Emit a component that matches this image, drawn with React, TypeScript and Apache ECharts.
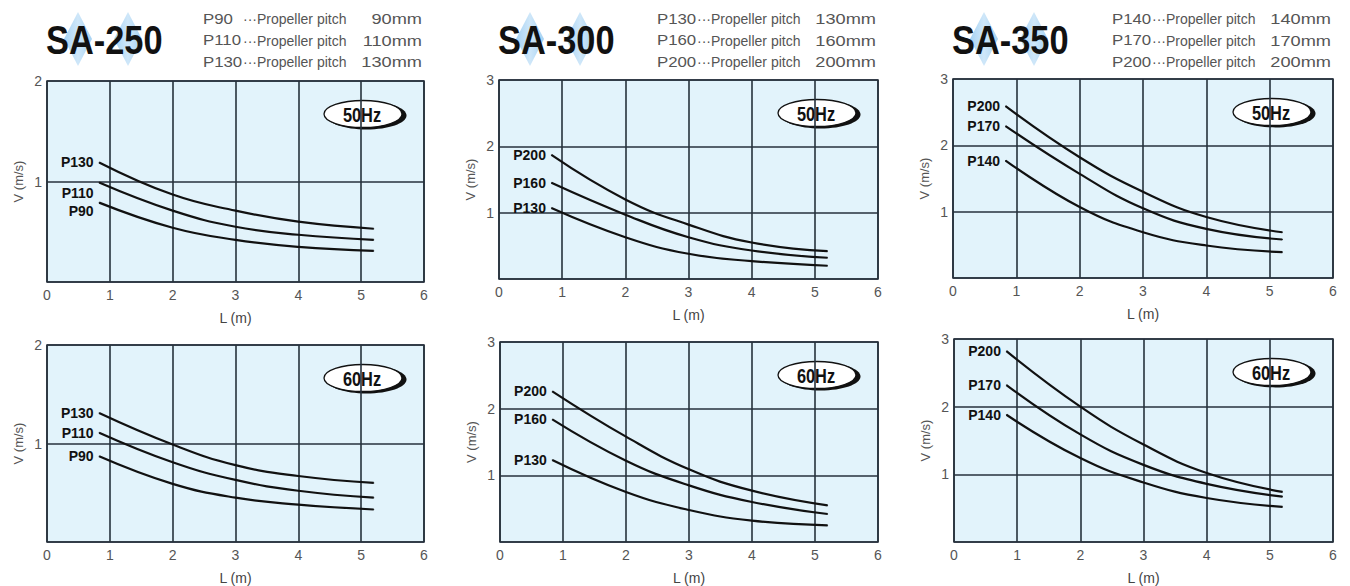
import React, { useEffect, useRef } from 'react';
import * as echarts from 'echarts';

// ---- data ----
const lengthsM = [0.83, 2, 3, 4, 5.2];

const sa250_50_p130 = [1.19, 0.87, 0.71, 0.6, 0.53];
const sa250_50_p110 = [0.99, 0.71, 0.55, 0.47, 0.42];
const sa250_50_p90 = [0.79, 0.54, 0.42, 0.35, 0.31];

const sa300_50_p200 = [1.87, 1.2, 0.82, 0.55, 0.42];
const sa300_50_p160 = [1.45, 0.97, 0.63, 0.43, 0.32];
const sa300_50_p130 = [1.07, 0.63, 0.38, 0.27, 0.2];

const sa350_50_p200 = [2.59, 1.82, 1.3, 0.92, 0.69];
const sa350_50_p170 = [2.29, 1.57, 1.05, 0.74, 0.58];
const sa350_50_p140 = [1.77, 1.07, 0.69, 0.49, 0.39];

const sa250_60_p130 = [1.31, 0.99, 0.78, 0.67, 0.6];
const sa250_60_p110 = [1.11, 0.81, 0.63, 0.52, 0.45];
const sa250_60_p90 = [0.87, 0.59, 0.45, 0.38, 0.33];

const sa300_60_p200 = [2.26, 1.58, 1.09, 0.77, 0.55];
const sa300_60_p160 = [1.84, 1.22, 0.85, 0.6, 0.42];
const sa300_60_p130 = [1.23, 0.75, 0.48, 0.32, 0.25];

const sa350_60_p200 = [2.82, 2.0, 1.44, 1.02, 0.74];
const sa350_60_p170 = [2.32, 1.59, 1.14, 0.86, 0.67];
const sa350_60_p140 = [1.88, 1.24, 0.88, 0.65, 0.52];

const pitches250 = [['P90', '90mm'], ['P110', '110mm'], ['P130', '130mm']];
const pitches300 = [['P130', '130mm'], ['P160', '160mm'], ['P200', '200mm']];
const pitches350 = [['P140', '140mm'], ['P170', '170mm'], ['P200', '200mm']];

const FONT = '"Liberation Sans", Arial, Helvetica, sans-serif';

const panels = [
  { model: 'SA-250', hz: '50Hz', ymax: 2, grid: { left: 47, top: 81, width: 377, height: 201 }, pitches: pitches250,
    curves: [['P130', sa250_50_p130, 0], ['P110', sa250_50_p110, 10], ['P90', sa250_50_p90, 8]] },
  { model: 'SA-300', hz: '50Hz', ymax: 3, grid: { left: 499, top: 80, width: 379, height: 199 }, pitches: pitches300,
    curves: [['P200', sa300_50_p200, 0], ['P160', sa300_50_p160, 0], ['P130', sa300_50_p130, 0]] },
  { model: 'SA-350', hz: '50Hz', ymax: 3, grid: { left: 953, top: 79, width: 380, height: 199 }, pitches: pitches350,
    curves: [['P200', sa350_50_p200, 0], ['P170', sa350_50_p170, 0], ['P140', sa350_50_p140, 0]] },
  { model: '', hz: '60Hz', ymax: 2, grid: { left: 47, top: 345, width: 377, height: 198 }, pitches: null,
    curves: [['P130', sa250_60_p130, 0], ['P110', sa250_60_p110, 0], ['P90', sa250_60_p90, 0]] },
  { model: '', hz: '60Hz', ymax: 3, grid: { left: 500, top: 342, width: 378, height: 201 }, pitches: null,
    curves: [['P200', sa300_60_p200, 0], ['P160', sa300_60_p160, 0], ['P130', sa300_60_p130, 0]] },
  { model: '', hz: '60Hz', ymax: 3, grid: { left: 954, top: 339, width: 379, height: 203 }, pitches: null,
    curves: [['P200', sa350_60_p200, 0], ['P170', sa350_60_p170, 0], ['P140', sa350_60_p140, 0]] },
];

function buildOption() {
  const grid: any[] = [];
  const xAxis: any[] = [];
  const yAxis: any[] = [];
  const series: any[] = [];
  const graphic: any[] = [];

  panels.forEach((p, i) => {
    grid.push({
      ...p.grid,
      show: true,
      backgroundColor: '#e2f3fb',
      borderColor: '#2b3540',
      borderWidth: 1.6,
    });
    xAxis.push({
      gridIndex: i,
      type: 'value',
      min: 0,
      max: 6,
      interval: 1,
      name: 'L (m)',
      nameLocation: 'middle',
      nameGap: 29,
      nameTextStyle: { color: '#444', fontSize: 14, fontFamily: FONT },
      axisLine: { show: false },
      axisTick: { show: false },
      axisLabel: { color: '#555', fontSize: 14, margin: 6, fontFamily: FONT },
      splitLine: { show: true, lineStyle: { color: '#26313c', width: 1.6 } },
    });
    yAxis.push({
      gridIndex: i,
      type: 'value',
      min: 0,
      max: p.ymax,
      interval: 1,
      name: 'V (m/s)',
      nameLocation: 'middle',
      nameGap: 22,
      nameTextStyle: { color: '#555', fontSize: 13, fontFamily: FONT },
      axisLine: { show: false },
      axisTick: { show: false },
      axisLabel: {
        color: '#555', fontSize: 14, margin: 5, fontFamily: FONT,
        formatter: (v: number) => (v === 0 ? '' : String(v)),
      },
      splitLine: { show: true, lineStyle: { color: '#26313c', width: 1.6 } },
    });
    p.curves.forEach(([code, vals, dy]: any) => {
      series.push({
        type: 'line',
        xAxisIndex: i,
        yAxisIndex: i,
        silent: true,
        smooth: 0.45,
        symbol: 'circle',
        symbolSize: 1,
        showSymbol: true,
        lineStyle: { color: '#111', width: 2.2 },
        itemStyle: { color: '#111' },
        data: lengthsM.map((x, k) =>
          k === 0
            ? {
                value: [x, vals[k]],
                label: {
                  show: true,
                  formatter: code,
                  position: 'left',
                  distance: 5,
                  offset: [0, dy],
                  fontWeight: 'bold',
                  fontSize: 14,
                  color: '#111',
                  fontFamily: FONT,
                },
              }
            : [x, vals[k]]
        ),
      });
    });

    // badge
    const right = p.grid.left + p.grid.width;
    const bx = right - 61;
    const by = p.grid.top + 33;
    graphic.push({
      type: 'group',
      silent: true,
      children: [
        { type: 'ellipse', shape: { cx: bx + 3.5, cy: by + 1.5, rx: 40, ry: 14 }, style: { fill: '#111' } },
        { type: 'ellipse', shape: { cx: bx, cy: by, rx: 39, ry: 13.5 }, style: { fill: '#fff', stroke: '#111', lineWidth: 1.3 } },
        {
          type: 'text', x: bx - 1, y: by + 1, scaleX: 0.78,
          style: { text: p.hz, fill: '#111', font: `bold 21px ${FONT}`, align: 'center', verticalAlign: 'middle' },
        },
      ],
    });

    if (p.model) {
      const tl = p.grid.left - 1;
      // diamonds
      [32, 82].forEach((dx) => {
        const cx = tl + dx;
        graphic.push({
          type: 'polygon',
          silent: true,
          shape: { points: [[cx, 12], [cx + 14, 39], [cx, 66], [cx - 14, 39]] },
          style: {
            fill: new echarts.graphic.LinearGradient(0, 0, 1, 0, [
              { offset: 0, color: '#a6d2f3' },
              { offset: 0.5, color: '#cfe7f9' },
              { offset: 1, color: '#a6d2f3' },
            ]),
          },
        });
      });
      graphic.push({
        type: 'text', x: tl, y: 40, scaleX: 0.86, silent: true,
        style: { text: p.model, fill: '#111', font: `bold 40px ${FONT}`, align: 'left', verticalAlign: 'middle' },
      });
      // pitch list
      const pr = right - 2;
      const pl = pr - 219;
      (p.pitches as string[][]).forEach(([code, mm], r) => {
        const y = 19 + r * 21.5;
        graphic.push({
          type: 'text', x: pl, y, scaleX: 1.2, silent: true,
          style: { text: code, fill: '#555', font: `14px ${FONT}`, align: 'left', verticalAlign: 'middle' },
        });
        graphic.push({
          type: 'text', x: pl + 40, y, silent: true,
          style: { text: '···Propeller pitch', fill: '#555', font: `14px ${FONT}`, align: 'left', verticalAlign: 'middle' },
        });
        graphic.push({
          type: 'text', x: pr, y, scaleX: 1.3, silent: true,
          style: { text: mm, fill: '#555', font: `14px ${FONT}`, align: 'right', verticalAlign: 'middle' },
        });
      });
    }
  });

  return {
    animation: false,
    backgroundColor: '#ffffff',
    textStyle: { fontFamily: FONT },
    grid,
    xAxis,
    yAxis,
    series,
    graphic,
  };
}

export default function App() {
  const ref = useRef<HTMLDivElement>(null);
  useEffect(() => {
    const chart = echarts.init(ref.current!, null, { renderer: 'svg' });
    chart.setOption(buildOption());
    return () => chart.dispose();
  }, []);
  return (
    <div
      ref={ref}
      style={{ position: 'absolute', left: 0, top: 0, width: 1350, height: 586, background: '#fff' }}
    />
  );
}
